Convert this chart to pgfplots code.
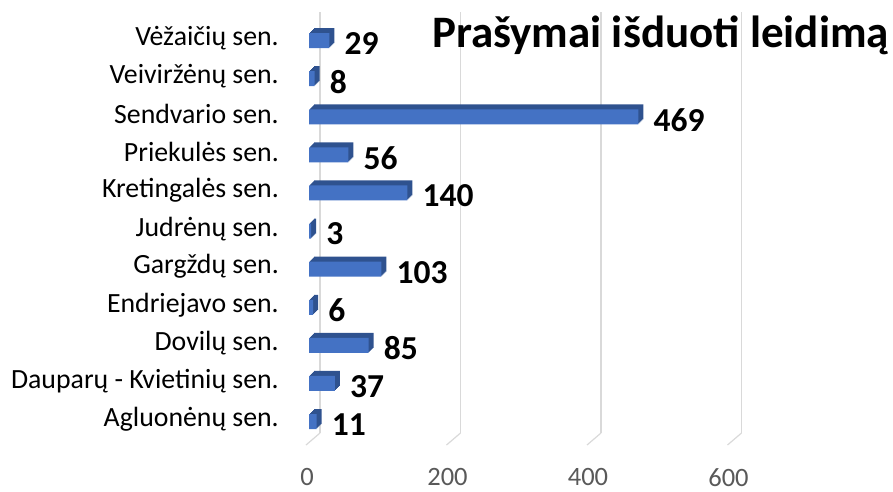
\documentclass[border=0pt]{standalone}
\usepackage{pgfplots}
\pgfplotsset{compat=1.18}
\usepackage{pgfplotstable}
\usepackage{fontspec}
\setmainfont{Carlito}
\definecolor{barfront}{HTML}{4472C4}
\definecolor{barside}{HTML}{2F528F}
\definecolor{gridc}{HTML}{D9D9D9}
\definecolor{tickc}{HTML}{595959}
\pgfplotstableread{
y v
0 11
1 37
2 85
3 6
4 103
5 3
6 140
7 56
8 469
9 8
10 29
}\datatab
\begin{document}
\begin{tikzpicture}
\path[use as bounding box, clip] (0,0) rectangle (893pt,491pt);
\begin{axis}[
  at={(309pt,46pt)}, anchor=south west,
  scale only axis, width=562pt, height=421pt,
  xmin=0, xmax=800, ymin=-0.68, ymax=10.37,
  xtick={0,200,400,600}, ytick={0,...,10},
  yticklabels={Agluonėnų sen.,Dauparų - Kvietinių sen.,Dovilų sen.,Endriejavo sen.,Gargždų sen.,Judrėnų sen.,Kretingalės sen.,Priekulės sen.,Sendvario sen.,Veiviržėnų sen.,Vėžaičių sen.},
  axis line style={draw=none}, major tick length=0pt,
  xmajorgrids, ymajorgrids=false,
  major grid style={draw=gridc, line width=1.2pt, xshift=11pt, yshift=12pt},
  /pgf/number format/assume math mode=true,
  xticklabel style={font=\fontsize{26.5}{30}\selectfont, text=tickc, anchor=north, inner sep=0pt, yshift=-23pt, xshift=-2pt},
  yticklabel style={font=\fontsize{27.8}{31}\selectfont, text=black, anchor=east, inner sep=0pt, xshift=-30pt},
  xbar, bar width=15pt, bar shift=-2.5pt,
  clip=false,
]
\pgfplotsinvokeforeach{0,200,400,600}{
  \draw[gridc, line width=1.2pt] (axis cs:#1,-0.68) ++(-3pt,0pt) -- ++(14pt,12pt);
}
\addplot[draw=none, fill=barside, forget plot, xshift=1pt, yshift=1pt] table[x=v,y=y] {\datatab};
\addplot[draw=none, fill=barside, forget plot, xshift=2pt, yshift=2pt] table[x=v,y=y] {\datatab};
\addplot[draw=none, fill=barside, forget plot, xshift=3pt, yshift=3pt] table[x=v,y=y] {\datatab};
\addplot[draw=none, fill=barside, forget plot, xshift=4pt, yshift=4pt] table[x=v,y=y] {\datatab};
\addplot[draw=none, fill=barside, forget plot, xshift=5pt, yshift=5pt] table[x=v,y=y] {\datatab};
\addplot[draw=none, fill=barfront,
  nodes near coords,
  every node near coord/.append style={font=\fontsize{33.5}{36}\selectfont\bfseries, text=black, anchor=west, inner sep=0pt, xshift=15pt, yshift=-3pt}]
  table[x=v,y=y] {\datatab};
\end{axis}
\node[anchor=base west, inner sep=0pt, font=\fontsize{45}{50}\selectfont\bfseries] at (432pt,443pt) {Prašymai išduoti leidimą};
\end{tikzpicture}
\end{document}
